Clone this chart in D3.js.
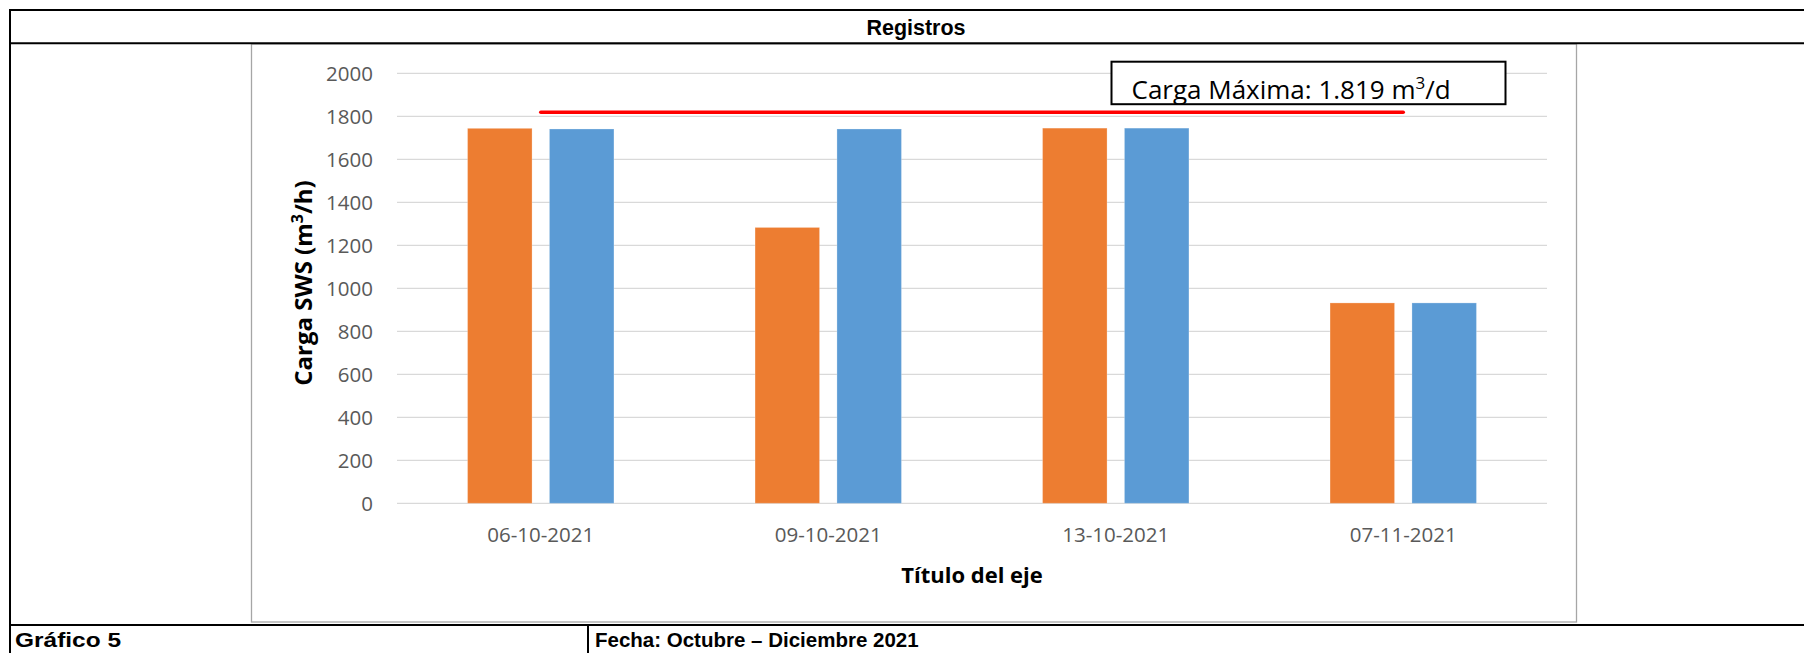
<!DOCTYPE html>
<html>
<head>
<meta charset="utf-8">
<script src="https://cdn.jsdelivr.net/npm/d3@7/dist/d3.min.js"></script>
<style>
  html, body { margin: 0; padding: 0; background: #fff; }
  svg { display: block; }
</style>
</head>
<body>
<svg id="chart" width="1804" height="653"></svg>
<script>
// ---- data ----
const categories = ["06-10-2021", "09-10-2021", "13-10-2021", "07-11-2021"];
const seriesNames = ["Serie 1", "Serie 2"];
const serie1 = [1744, 1283, 1745, 932];
const serie2 = [1741, 1741, 1745, 932];
const yTicks = [0, 200, 400, 600, 800, 1000, 1200, 1400, 1600, 1800, 2000];
const maxLoad = 1819;
const tableTitle = "Registros";
const yTitle = "Carga SWS (m";
const xTitle = "Título del eje";
const annotation = "Carga Máxima: 1.819 m";
const footLeft = "Gráfico 5";
const footRight = "Fecha: Octubre – Diciembre 2021";

const colors = ["#ED7D31", "#5B9BD5"];

const svg = d3.select("#chart");

// ---- table frame ----
const tableG = svg.append("g");
tableG.append("rect")
  .attr("x", 251.5).attr("y", 44).attr("width", 1325).attr("height", 578)
  .attr("fill", "#fff").attr("stroke", "#a6a6a6").attr("stroke-width", 1.3);

const hLines = [10, 43.3, 625];
hLines.forEach(yy => tableG.append("line")
  .attr("x1", 9).attr("x2", 1804).attr("y1", yy).attr("y2", yy)
  .attr("stroke", "#000").attr("stroke-width", 2));
tableG.append("line").attr("x1", 10).attr("x2", 10).attr("y1", 9).attr("y2", 653)
  .attr("stroke", "#000").attr("stroke-width", 2);
tableG.append("line").attr("x1", 588).attr("x2", 588).attr("y1", 625).attr("y2", 653)
  .attr("stroke", "#000").attr("stroke-width", 2);

const tfont = "'Liberation Sans', Arial, sans-serif";
tableG.append("text").attr("x", 916).attr("y", 35)
  .attr("text-anchor", "middle")
  .style("font-family", tfont).style("font-weight", "bold").style("font-size", "21.5px")
  .text(tableTitle);
tableG.append("text").attr("x", 15).attr("y", 647)
  .attr("textLength", 106).attr("lengthAdjust", "spacingAndGlyphs")
  .style("font-family", tfont).style("font-weight", "bold").style("font-size", "21px")
  .text(footLeft);
tableG.append("text").attr("x", 595).attr("y", 647)
  .style("font-family", tfont).style("font-weight", "bold").style("font-size", "20.5px")
  .text(footRight);

// ---- scales ----
const x0 = d3.scaleBand().domain(categories).range([397, 1547]).paddingInner(0).paddingOuter(0);
const groupHalf = x0.bandwidth() * 0.2546;
const x1 = d3.scaleBand().domain(seriesNames).range([-groupHalf, groupHalf]).paddingInner(0.2124);
const y = d3.scaleLinear().domain([0, 2000]).range([503.3, 73.3]);

const font = "'Open Sans', sans-serif";

const g = svg.append("g");
g.selectAll("line.grid").data(yTicks).enter().append("line")
  .attr("class", "grid")
  .attr("x1", x0.range()[0]).attr("x2", x0.range()[1])
  .attr("y1", d => y(d)).attr("y2", d => y(d))
  .attr("stroke", "#d9d9d9").attr("stroke-width", 1.3);

g.selectAll("text.ytick").data(yTicks).enter().append("text")
  .attr("class", "ytick")
  .attr("x", 373).attr("y", d => y(d)).attr("dy", "0.36em")
  .attr("text-anchor", "end")
  .style("font-family", font).style("font-size", "20.5px").style("fill", "#595959")
  .text(d => d);

g.selectAll("text.xtick").data(categories).enter().append("text")
  .attr("class", "xtick")
  .attr("x", d => x0(d) + x0.bandwidth() / 2).attr("y", 542)
  .attr("text-anchor", "middle")
  .style("font-family", font).style("font-size", "20.5px").style("fill", "#595959")
  .text(d => d);

const rows = categories.map((c, i) => ({ cat: c, vals: [serie1[i], serie2[i]] }));
const grp = g.selectAll("g.grp").data(rows).enter().append("g")
  .attr("transform", d => `translate(${x0(d.cat) + x0.bandwidth() / 2},0)`);
grp.selectAll("rect").data(d => d.vals.map((v, j) => ({ name: seriesNames[j], v, j })))
  .enter().append("rect")
  .attr("x", d => x1(d.name)).attr("width", x1.bandwidth())
  .attr("y", d => y(d.v)).attr("height", d => y(0) - y(d.v))
  .attr("fill", d => colors[d.j])
  .attr("stroke", "rgba(255,255,255,0.25)").attr("stroke-width", 1);

svg.append("line")
  .attr("x1", x0(categories[0]) + x0.bandwidth() / 2)
  .attr("x2", x0(categories[categories.length - 1]) + x0.bandwidth() / 2)
  .attr("y1", y(maxLoad)).attr("y2", y(maxLoad))
  .attr("stroke", "#ff0000").attr("stroke-width", 3.5).attr("stroke-linecap", "round");

svg.append("rect")
  .attr("x", 1111.5).attr("y", 61.7).attr("width", 394).attr("height", 42.5)
  .attr("fill", "#fff").attr("stroke", "#000").attr("stroke-width", 2);
const ann = svg.append("text").attr("x", 1131.5).attr("y", 99.3)
  .style("font-family", font).style("font-size", "26px").style("fill", "#000");
ann.append("tspan").text(annotation);
ann.append("tspan").attr("dy", -10).style("font-size", "17px").text("3");
ann.append("tspan").attr("dy", 10).text("/d");

const yt = svg.append("text")
  .attr("transform", "translate(312,283) rotate(-90)")
  .attr("text-anchor", "middle")
  .style("font-family", font).style("font-weight", "bold").style("font-size", "24px").style("fill", "#000");
yt.append("tspan").text(yTitle);
yt.append("tspan").attr("dy", -9).style("font-size", "16px").text("3");
yt.append("tspan").attr("dy", 9).text("/h)");

svg.append("text").attr("x", 972).attr("y", 583)
  .attr("text-anchor", "middle")
  .style("font-family", font).style("font-weight", "bold").style("font-size", "22px").style("fill", "#000")
  .text(xTitle);
</script>
</body>
</html>
